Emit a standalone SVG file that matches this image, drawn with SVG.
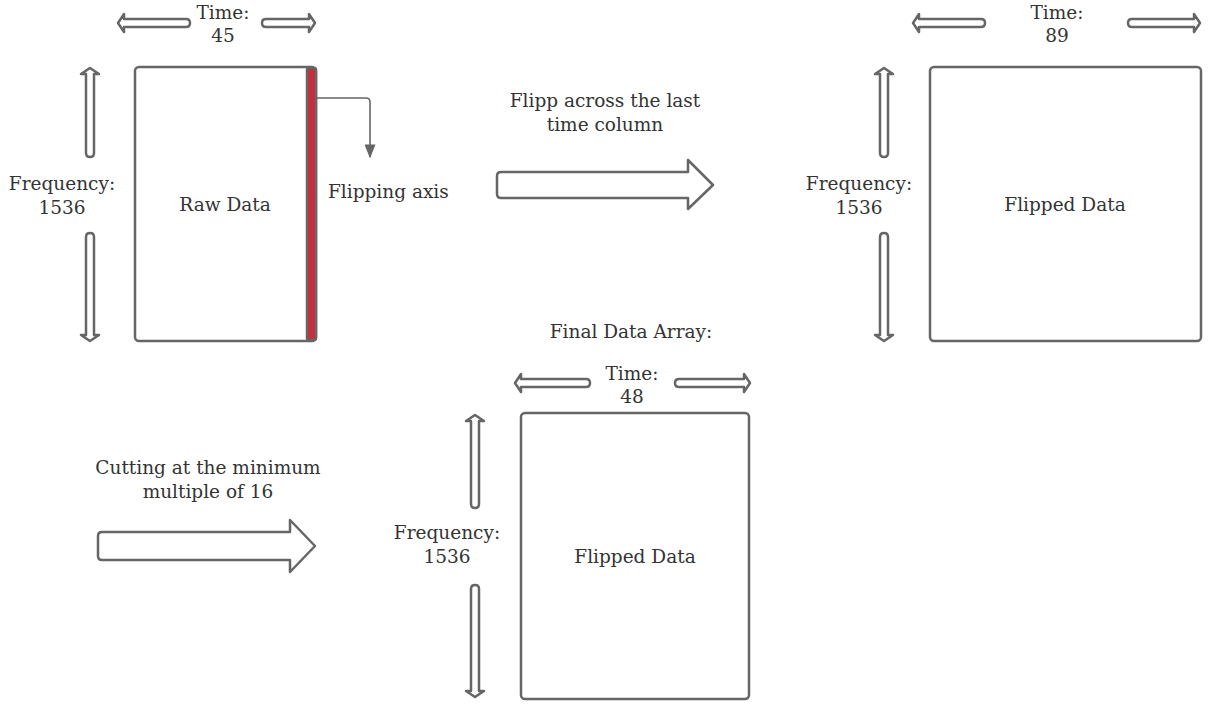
<svg xmlns="http://www.w3.org/2000/svg" width="1209" height="704" viewBox="0 0 1209 704">
  <style>
    .box { fill: #ffffff; stroke: #666666; stroke-width: 2.5; }
    .blk { fill: #ffffff; stroke: #666666; stroke-width: 2.5; stroke-linejoin: round; }
    .lbl { font-family: "DejaVu Serif", "Liberation Serif", serif; font-size: 18.5px; fill: #333333; text-anchor: middle; }
    .lbl-start { font-family: "DejaVu Serif", "Liberation Serif", serif; font-size: 18.5px; fill: #333333; }
    .link { fill: none; stroke: #666666; stroke-width: 1.6; }
  </style>
  <defs>
    <marker id="tri" viewBox="0 0 10 10" refX="9" refY="5" markerWidth="14" markerHeight="11" markerUnits="userSpaceOnUse" orient="auto" preserveAspectRatio="none">
      <path d="M0,0 L10,5 L0,10 Z" fill="#666666"/>
    </marker>
  </defs>
  <rect width="1209" height="704" fill="#ffffff"/>

  <!-- Raw data block with flipping axis -->
  <g id="raw-data">
    <rect class="box" x="135" y="67" width="181" height="274" rx="4"/>
    <rect x="307" y="68" width="9" height="272" rx="2" fill="#c92d39" stroke="#666666" stroke-width="2.5"/>
    <text class="lbl" x="225" y="211">Raw Data</text>
  </g>
  <g id="raw-time">
    <path class="blk" d="M118,23 L124,14 L124,19 L186,19 Q190,19 190,23 Q190,27 186,27 L124,27 L124,32 Z"/>
    <path class="blk" d="M315,23 L309,14 L309,19 L266,19 Q262,19 262,23 Q262,27 266,27 L309,27 L309,32 Z"/>
    <text class="lbl" x="223" y="19">Time:</text>
    <text class="lbl" x="223" y="42">45</text>
  </g>
  <g id="raw-frequency">
    <path class="blk" d="M90,68 L81,74 L86,74 L86,153 Q86,157 90,157 Q94,157 94,153 L94,74 L99,74 Z"/>
    <path class="blk" d="M90,341 L81,335 L86,335 L86,237 Q86,233 90,233 Q94,233 94,237 L94,335 L99,335 Z"/>
    <text class="lbl" x="62" y="190">Frequency:</text>
    <text class="lbl" x="62" y="214">1536</text>
  </g>
  <g id="flip-axis-label">
    <text class="lbl-start" x="328" y="198">Flipping axis</text>
  </g>

  <!-- Flip step -->
  <g id="flip-step">
    <path class="blk" d="M501,172 L688,172 L688,160 L713,185 L688,209 L688,198 L501,198 Q497,198 497,194 L497,176 Q497,172 501,172 Z"/>
    <text class="lbl" x="605" y="107">Flipp across the last</text>
    <text class="lbl" x="605" y="131">time column</text>
  </g>

  <!-- Flipped data block -->
  <g id="flipped-data">
    <rect class="box" x="930" y="67" width="271" height="274" rx="4"/>
    <text class="lbl" x="1065" y="211">Flipped Data</text>
  </g>
  <g id="flipped-time">
    <path class="blk" d="M913,23 L919,14 L919,19 L981,19 Q985,19 985,23 Q985,27 981,27 L919,27 L919,32 Z"/>
    <path class="blk" d="M1200,23 L1194,14 L1194,19 L1132,19 Q1128,19 1128,23 Q1128,27 1132,27 L1194,27 L1194,32 Z"/>
    <text class="lbl" x="1057" y="19">Time:</text>
    <text class="lbl" x="1057" y="42">89</text>
  </g>
  <g id="flipped-frequency">
    <path class="blk" d="M884,68 L875,74 L880,74 L880,153 Q880,157 884,157 Q888,157 888,153 L888,74 L893,74 Z"/>
    <path class="blk" d="M884,341 L875,335 L880,335 L880,237 Q880,233 884,233 Q888,233 888,237 L888,335 L893,335 Z"/>
    <text class="lbl" x="859" y="190">Frequency:</text>
    <text class="lbl" x="859" y="214">1536</text>
  </g>

  <!-- Cut step -->
  <g id="cut-step">
    <path class="blk" d="M102,532 L290,532 L290,520 L315,546 L290,572 L290,560 L102,560 Q98,560 98,556 L98,536 Q98,532 102,532 Z"/>
    <text class="lbl" x="208" y="474">Cutting at the minimum</text>
    <text class="lbl" x="208" y="498">multiple of 16</text>
  </g>

  <!-- Final data block -->
  <g id="final-data">
    <text class="lbl" x="631" y="338">Final Data Array:</text>
    <rect class="box" x="521" y="413" width="228" height="286" rx="4"/>
    <text class="lbl" x="635" y="563">Flipped Data</text>
  </g>
  <g id="final-time">
    <path class="blk" d="M515,383 L521,374 L521,379 L586,379 Q590,379 590,383 Q590,387 586,387 L521,387 L521,392 Z"/>
    <path class="blk" d="M750,383 L744,374 L744,379 L679,379 Q675,379 675,383 Q675,387 679,387 L744,387 L744,392 Z"/>
    <text class="lbl" x="632" y="380">Time:</text>
    <text class="lbl" x="632" y="403">48</text>
  </g>
  <g id="final-frequency">
    <path class="blk" d="M475,415 L466,421 L471,421 L471,504 Q471,508 475,508 Q479,508 479,504 L479,421 L484,421 Z"/>
    <path class="blk" d="M475,697 L466,691 L471,691 L471,589 Q471,585 475,585 Q479,585 479,589 L479,691 L484,691 Z"/>
    <text class="lbl" x="447" y="539">Frequency:</text>
    <text class="lbl" x="447" y="563">1536</text>
  </g>

  <!-- Connectors -->
  <g id="connectors">
    <path class="link" d="M317,98 L366,98 Q370,98 370,102 L370,157" marker-end="url(#tri)"/>
  </g>
</svg>
